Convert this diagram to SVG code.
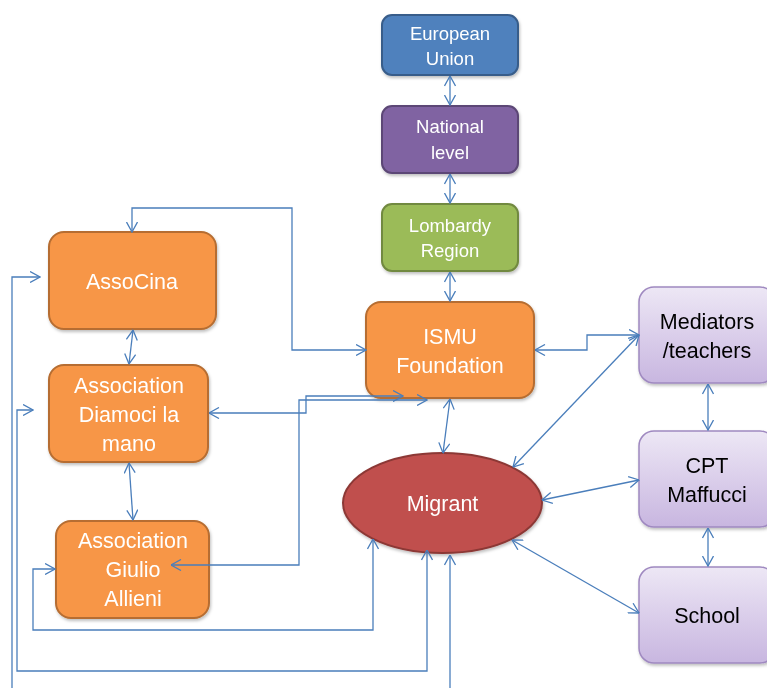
<svg xmlns="http://www.w3.org/2000/svg" width="767" height="688" viewBox="0 0 767 688">
<defs>
  <marker id="ah" viewBox="0 0 11 12" refX="10.5" refY="6" markerWidth="11" markerHeight="12" markerUnits="userSpaceOnUse" orient="auto-start-reverse">
    <path d="M0.5,0.5 L10.5,6 L0.5,11.5" fill="none" stroke="#4A7EBB" stroke-width="1.3"/>
  </marker>
  <linearGradient id="lav" x1="0" y1="0" x2="0" y2="1">
    <stop offset="0" stop-color="#EDE7F5"/>
    <stop offset="1" stop-color="#C8B6E0"/>
  </linearGradient>
  <filter id="sh" x="-10%" y="-10%" width="130%" height="130%">
    <feDropShadow dx="1" dy="2" stdDeviation="1.5" flood-color="#000" flood-opacity="0.25"/>
  </filter>
</defs>
<style>
  .t { font-family: "Liberation Sans", Arial, sans-serif; text-anchor: middle; fill: #FFFFFF; }
  .big { font-size: 21.5px; }
  .sm { font-size: 18.5px; }
  .dk { fill: #000000; }
  .orange { fill: #F79646; stroke: #B66D31; stroke-width: 2; }
  .lav { fill: url(#lav); stroke: #9F89C0; stroke-width: 1.5; }
  .conn path { fill: none; stroke: #4A7EBB; stroke-width: 1.3; }
  .both { marker-start: url(#ah); marker-end: url(#ah); }
  .end { marker-end: url(#ah); }
</style>

<g id="eu" filter="url(#sh)">
  <rect x="382" y="15" width="136" height="60" rx="10" fill="#4F81BD" stroke="#385D8A" stroke-width="2"/>
  <text class="t sm" x="450" y="40">European</text>
  <text class="t sm" x="450" y="65">Union</text>
</g>
<g id="national" filter="url(#sh)">
  <rect x="382" y="106" width="136" height="67" rx="10" fill="#8064A2" stroke="#5C4776" stroke-width="2"/>
  <text class="t sm" x="450" y="133">National</text>
  <text class="t sm" x="450" y="159">level</text>
</g>
<g id="lombardy" filter="url(#sh)">
  <rect x="382" y="204" width="136" height="67" rx="10" fill="#9BBB59" stroke="#71893F" stroke-width="2"/>
  <text class="t sm" x="450" y="232">Lombardy</text>
  <text class="t sm" x="450" y="257">Region</text>
</g>
<g id="ismu" filter="url(#sh)">
  <rect class="orange" x="366" y="302" width="168" height="96" rx="15"/>
  <text class="t big" x="450" y="344">ISMU</text>
  <text class="t big" x="450" y="373">Foundation</text>
</g>
<g id="associna" filter="url(#sh)">
  <rect class="orange" x="49" y="232" width="167" height="97" rx="15"/>
  <text class="t big" x="132" y="289">AssoCina</text>
</g>
<g id="diamoci" filter="url(#sh)">
  <rect class="orange" x="49" y="365" width="159" height="97" rx="15"/>
  <text class="t big" x="129" y="393">Association</text>
  <text class="t big" x="129" y="422">Diamoci la</text>
  <text class="t big" x="129" y="451">mano</text>
</g>
<g id="giulio" filter="url(#sh)">
  <rect class="orange" x="56" y="521" width="153" height="97" rx="15"/>
  <text class="t big" x="133" y="548">Association</text>
  <text class="t big" x="133" y="577">Giulio</text>
  <text class="t big" x="133" y="606">Allieni</text>
</g>
<g id="migrant" filter="url(#sh)">
  <ellipse cx="442.5" cy="503" rx="99.5" ry="50" fill="#C0504D" stroke="#8C3836" stroke-width="2"/>
  <text class="t big" x="442.5" y="511">Migrant</text>
</g>
<g id="mediators" filter="url(#sh)">
  <rect class="lav" x="639" y="287" width="136" height="96" rx="15"/>
  <text class="t big dk" x="707" y="329">Mediators</text>
  <text class="t big dk" x="707" y="358">/teachers</text>
</g>
<g id="cpt" filter="url(#sh)">
  <rect class="lav" x="639" y="431" width="136" height="96" rx="15"/>
  <text class="t big dk" x="707" y="473">CPT</text>
  <text class="t big dk" x="707" y="502">Maffucci</text>
</g>
<g id="school" filter="url(#sh)">
  <rect class="lav" x="639" y="567" width="136" height="96" rx="15"/>
  <text class="t big dk" x="707" y="623">School</text>
</g>

<g id="connectors" class="conn">
  <path class="both" d="M450,76 V105"/>
  <path class="both" d="M450,174 V203"/>
  <path class="both" d="M450,272 V301"/>
  <path class="both" d="M450,399 L443,453"/>
  <path class="both" d="M535,350 H587 V335 H639"/>
  <path class="both" d="M513,467 L639,335"/>
  <path class="both" d="M542,500 L639,480"/>
  <path class="both" d="M512,540 L639,613"/>
  <path class="both" d="M708,384 V430"/>
  <path class="both" d="M708,528 V566"/>
  <path class="both" d="M133,330 L129,364"/>
  <path class="both" d="M129,463 L133,520"/>
  <path class="both" d="M132,232 V208 H292 V350 H366"/>
  <path class="end" d="M12,688 V277 H40"/>
  <path class="both" d="M33,410 H17 V671 H427 V550"/>
  <path class="both" d="M55,569 H33 V630 H373 V539"/>
  <path class="end" d="M450,688 V555"/>
  <path class="both" d="M209,413 H306 V396 H403"/>
  <path class="both" d="M171,565 H299 V400 H427"/>
</g>
</svg>
